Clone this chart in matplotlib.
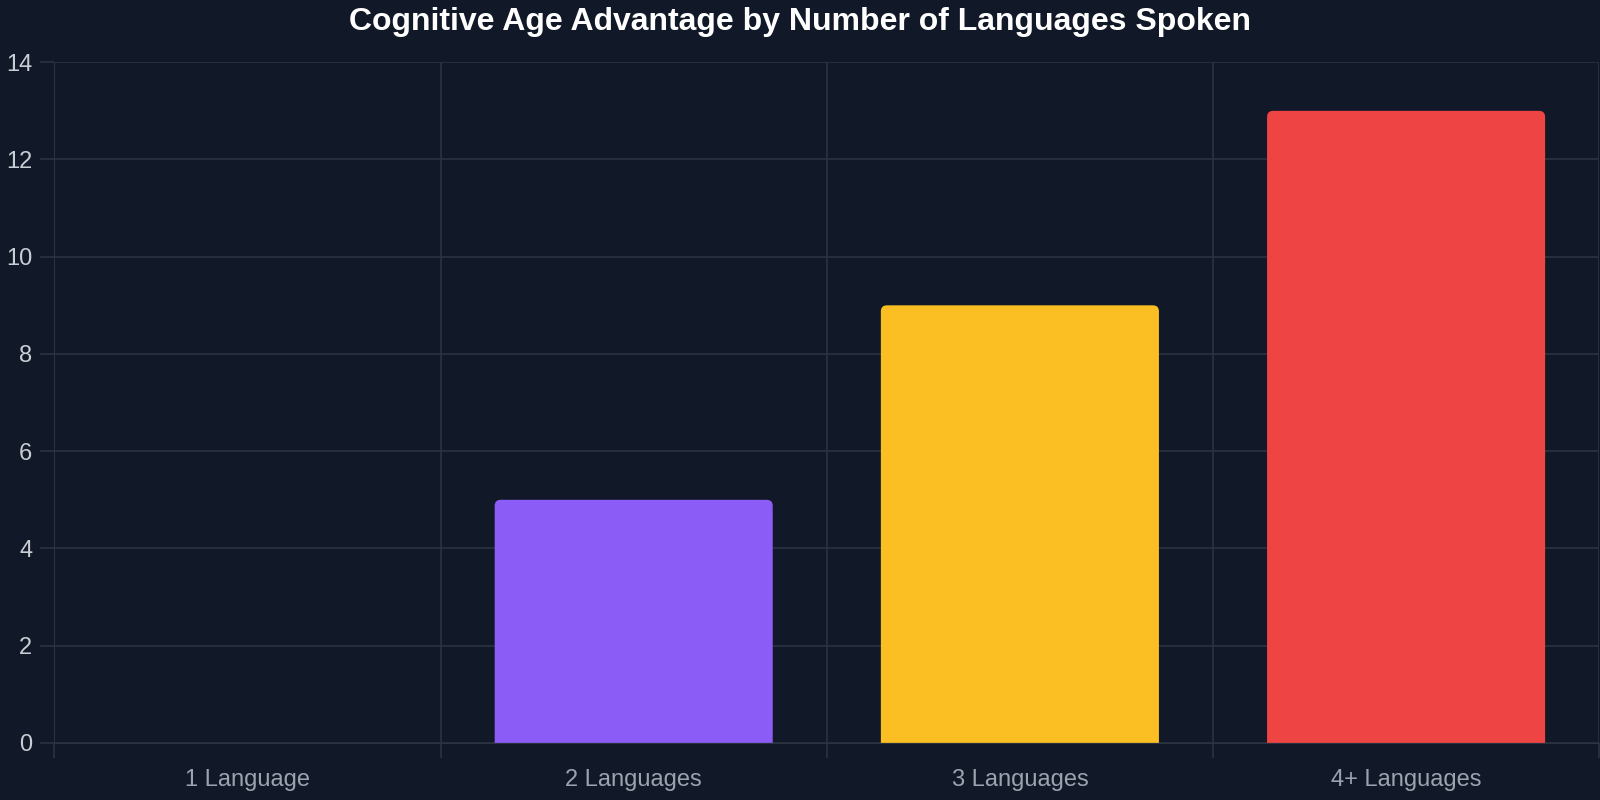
import matplotlib
matplotlib.use("Agg")
import matplotlib.pyplot as plt
from matplotlib.path import Path
from matplotlib.patches import PathPatch

# data
categories = ["1 Language", "2 Languages", "3 Languages", "4+ Languages"]
advantage = [0, 5, 9, 13]
bar_colors = ["#3b82f6", "#8b5cf6", "#fbbf24", "#ef4444"]

bg = "#111827"
grid_col = "#2b3240"

plt.rcParams["font.family"] = ["Liberation Sans", "DejaVu Sans"]

fig = plt.figure(figsize=(16, 8), dpi=100, facecolor=bg)
ax_rect = [0.034, 0.0714, 0.9655, 0.8508]
ax = fig.add_axes(ax_rect, facecolor=bg)

width = 0.72
xs = list(range(len(categories)))
ymax = 14
ax.set_xlim(-0.5, len(categories) - 0.5)
ax.set_ylim(0, ymax)

# bars with rounded top corners (~6px)
px_x = 1600 * ax_rect[2] / len(categories)
px_y = 800 * ax_rect[3] / ymax
rx = 6 / px_x
ry = 6 / px_y


def top_rounded(x0, x1, h):
    verts = [(x0, 0), (x0, h - ry), (x0, h), (x0 + rx, h),
             (x1 - rx, h), (x1, h), (x1, h - ry), (x1, 0), (x0, 0)]
    codes = [Path.MOVETO, Path.LINETO, Path.CURVE3, Path.CURVE3,
             Path.LINETO, Path.CURVE3, Path.CURVE3, Path.LINETO, Path.CLOSEPOLY]
    return Path(verts, codes)


for x, v, c in zip(xs, advantage, bar_colors):
    if v <= 0:
        continue
    p = top_rounded(x - width / 2, x + width / 2, v)
    ax.add_patch(PathPatch(p, facecolor=c, edgecolor="none", zorder=3))

# grid
ax.set_yticks(range(0, ymax + 1, 2))
ax.set_xticks(xs)
ax.set_xticklabels(categories)
ax.set_xticks([i - 0.5 for i in range(len(categories) + 1)], minor=True)
ax.grid(axis="y", which="major", color=grid_col, linewidth=1.2, zorder=0)
ax.grid(axis="x", which="minor", color=grid_col, linewidth=1.2, zorder=0)

for s in ax.spines.values():
    s.set_visible(False)
ax.spines["left"].set_visible(True)
ax.spines["left"].set_color(grid_col)
ax.spines["bottom"].set_visible(True)
ax.spines["bottom"].set_color(grid_col)

ax.tick_params(axis="y", colors=grid_col, labelcolor="#c9cdd4", labelsize=17,
               length=10, width=1.2, pad=6)
ax.tick_params(axis="x", which="major", length=0, labelcolor="#9ca3af",
               labelsize=17, pad=19)
ax.tick_params(axis="x", which="minor", length=11, color=grid_col, width=1.2)

fig.suptitle("Cognitive Age Advantage by Number of Languages Spoken",
             color="white", fontsize=23, fontweight="bold", y=0.972, va="center")

fig.savefig("out.png", facecolor=bg)
